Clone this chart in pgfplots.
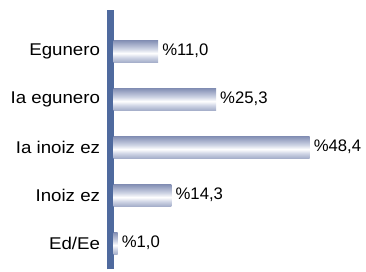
\documentclass[border=0pt]{standalone}
\usepackage{pgfplots}
\pgfplotsset{compat=1.18}
\usepackage{fontspec}
\setmainfont{Liberation Sans}
\newfontfamily\labelfont[FakeStretch=1.1]{Liberation Sans}
\definecolor{axisblue}{RGB}{79,106,158}
\definecolor{bardark}{RGB}{72,86,126}
\definecolor{barmid}{RGB}{128,140,178}
\definecolor{barlight}{RGB}{205,211,228}
\pgfdeclareverticalshading{barshade}{100bp}{color(0bp)=(bardark); color(15bp)=(barmid); color(35bp)=(barlight); color(45bp)=(white); color(55bp)=(barlight); color(75bp)=(barmid); color(100bp)=(bardark)}
\begin{document}
\begin{tikzpicture}
\useasboundingbox (-110.5pt,-1.6pt) rectangle (255.5pt,269.4pt);
\begin{axis}[
  at={(0pt,0pt)}, anchor=south west,
  x=4.05pt, y=48pt,
  xmin=-0.75, xmax=60,
  ymin=-0.55, ymax=4.85,
  axis x line=none,
  axis y line=left,
  y axis line style={-, line width=7pt, color=axisblue},
  ytick={0,1,2,3,4},
  yticklabels={Ed/Ee, Inoiz ez, Ia inoiz ez, Ia egunero, Egunero},
  ytick style={draw=none},
  yticklabel style={font=\labelfont\fontsize{17}{19}\selectfont, inner sep=0pt, anchor=east, xshift=-6pt},
  xbar, bar width=22pt, bar shift=0pt,
  /pgf/number format/assume math mode=true,
  nodes near coords={\%\pgfmathprintnumber[fixed,fixed zerofill,precision=1,use comma,assume math mode=true]{\pgfplotspointmeta}},
  every node near coord/.append style={font=\fontsize{16.7}{19}\selectfont, inner sep=0pt, anchor=west, xshift=4pt, black},
  clip=false,
]
\addplot[draw=none, shade, shading=barshade] coordinates {(1.0,0)};
\addplot[draw=none, shade, shading=barshade] coordinates {(14.3,1)};
\addplot[draw=none, shade, shading=barshade] coordinates {(48.4,2)};
\addplot[draw=none, shade, shading=barshade] coordinates {(25.3,3)};
\addplot[draw=none, shade, shading=barshade] coordinates {(11.0,4)};
\end{axis}
\end{tikzpicture}
\end{document}
